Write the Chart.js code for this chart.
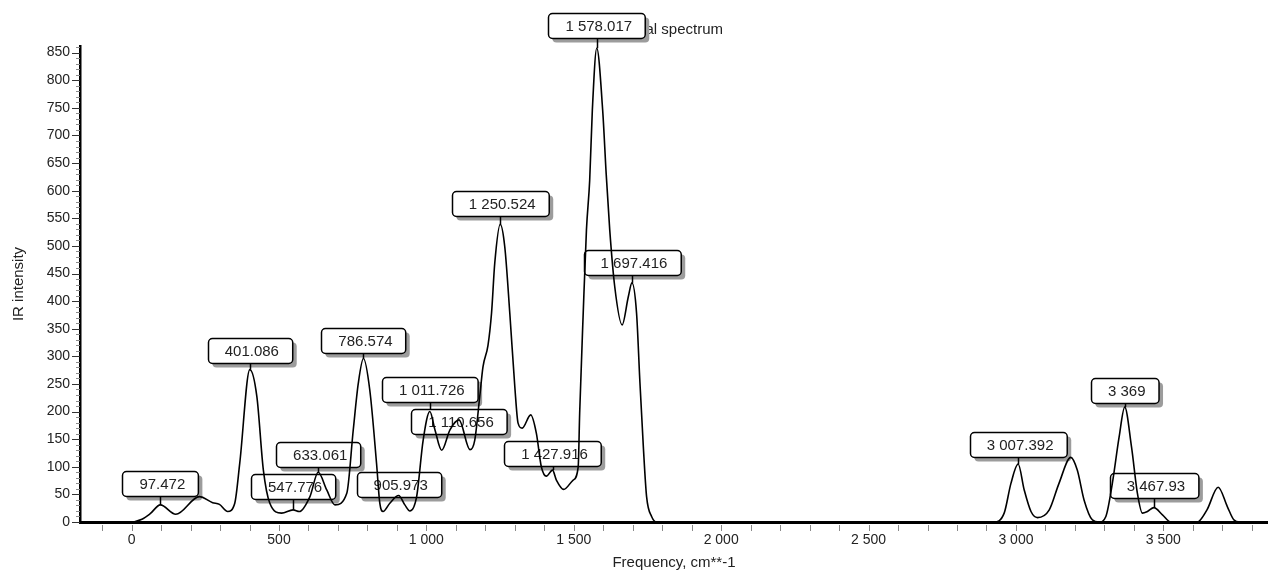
<!DOCTYPE html>
<html lang="en">
<head>
<meta charset="UTF-8">
<title>IR spectrum</title>
<style>
  html, body { margin: 0; padding: 0; background: #fff; }
  #wrap { width: 1268px; height: 572px; }
</style>
<script src="https://cdn.jsdelivr.net/npm/chart.js"></script>
</head>
<body>
<div id="wrap"><canvas id="spec"></canvas></div>
<script>
// spectrum (frequency cm-1 / IR intensity)
const freq = [-175, -5, 35, 63, 97.472, 150, 230, 275, 298, 326, 350, 367, 401.086, 425, 447, 469, 509,
  547.776, 569, 605, 633.061, 662, 690, 730, 752, 769, 786.574, 808, 831, 842, 853, 876, 905.973, 927,
  944, 967, 989, 1011.726, 1029, 1052, 1080, 1110.656, 1148, 1164, 1181, 1192, 1209, 1221, 1232,
  1250.524, 1266, 1283, 1300, 1311, 1325, 1354, 1373, 1390, 1407, 1427.916, 1441, 1466, 1498, 1515,
  1520, 1532, 1543, 1554, 1563, 1578.017, 1598, 1610, 1622, 1639, 1664, 1685, 1697.416, 1713, 1724,
  1736, 1747, 1764, 1781, 2925, 2960, 2983, 3007.392, 3028, 3051, 3073, 3113, 3146, 3186, 3208, 3231,
  3259, 3282, 3305, 3327, 3350, 3369, 3392, 3412, 3429, 3446, 3467.93, 3497, 3525, 3615, 3648, 3686,
  3717, 3739, 3759, 3855];
const intensity = [0, 0, 5, 15, 31, 14, 46, 35, 32, 19, 34, 107, 276, 227, 94, 34, 16,
  22, 19, 46, 90, 58, 31, 52, 167, 251, 296, 239, 106, 34, 19, 34, 48, 31,
  20, 46, 148, 200, 167, 130, 167, 185, 131, 148, 227, 281, 320, 378, 469,
  539, 498, 378, 245, 179, 170, 194, 161, 100, 83, 94, 76, 59, 76, 100,
  197, 378, 529, 619, 746, 858, 746, 630, 529, 426, 357, 408, 433, 378, 257,
  136, 46, 10, 0, 0, 16, 70, 105, 58, 19, 8, 22, 70, 117, 94, 40,
  4, 0, 10, 70, 154, 208, 136, 52, 16, 19, 26, 13, 0, 0, 22, 63,
  28, 4, 0, 0];

// labelled peaks
const peakFreq = [97.472, 401.086, 547.776, 633.061, 786.574, 905.973, 1011.726, 1110.656,
  1250.524, 1427.916, 1578.017, 1697.416, 3007.392, 3369, 3467.93];
const peakText = ['97.472', '401.086', '547.776', '633.061', '786.574', '905.973', '1 011.726', '1 110.656',
  '1 250.524', '1 427.916', '1 578.017', '1 697.416', '3 007.392', '3 369', '3 467.93'];
// gap in px between a label box and its peak
const peakLift = [9, 7, 11, 5, 6, -2, 10, -14, 8, 4, 10, 8, 7, 4, 10];

const xTickValues = [0, 500, 1000, 1500, 2000, 2500, 3000, 3500];
const yTickValues = [0, 50, 100, 150, 200, 250, 300, 350, 400, 450, 500, 550, 600, 650, 700, 750, 800, 850];

const FONT = '"Liberation Sans", Arial, sans-serif';
const fmt = v => String(v).replace(/\B(?=(\d{3})+(?!\d))/g, ' ');

function roundRect(ctx, x, y, w, h, r) {
  ctx.beginPath();
  ctx.moveTo(x + r, y);
  ctx.arcTo(x + w, y, x + w, y + h, r);
  ctx.arcTo(x + w, y + h, x, y + h, r);
  ctx.arcTo(x, y + h, x, y, r);
  ctx.arcTo(x, y, x + w, y, r);
  ctx.closePath();
}

const spectrumDecor = {
  id: 'spectrumDecor',
  beforeDatasetsDraw(chart) {
    const { ctx, chartArea: a, scales: { x, y } } = chart;
    ctx.save();
    // small tick marks
    ctx.lineWidth = 1;
    for (let v = 0; v <= 860; v += 10) {
      const py = Math.round(y.getPixelForValue(v)) + 0.5;
      const major = v % 50 === 0;
      ctx.strokeStyle = major ? '#333' : '#8a8a8a';
      ctx.beginPath();
      ctx.moveTo(a.left - (major ? 8 : 4), py);
      ctx.lineTo(a.left, py);
      ctx.stroke();
    }
    ctx.strokeStyle = '#8a8a8a';
    for (let v = -100; v <= 3800; v += 100) {
      const px = Math.round(x.getPixelForValue(v)) + 0.5;
      ctx.beginPath();
      ctx.moveTo(px, a.bottom + 3);
      ctx.lineTo(px, a.bottom + 9);
      ctx.stroke();
    }

    // legend text (partly hidden behind the top label)
    ctx.font = '15px ' + FONT;
    ctx.fillStyle = '#222';
    ctx.textAlign = 'right';
    ctx.textBaseline = 'middle';
    ctx.fillText('Theoretical spectrum', 723, 30);

    // peak labels
    ctx.textAlign = 'center';
    peakFreq.forEach((f, i) => {
      const k = freq.indexOf(f);
      const px = x.getPixelForValue(f);
      const py = y.getPixelForValue(intensity[k]);
      const w = ctx.measureText(peakText[i]).width + 30;
      const h = 25;
      const bx = Math.round(px - w / 2) + 0.5;
      const by = Math.round(py - peakLift[i] - h) + 0.5;

      ctx.fillStyle = '#9c9c9c';
      roundRect(ctx, bx + 4, by + 4, w, h, 4);
      ctx.fill();
      ctx.fillStyle = '#fff';
      roundRect(ctx, bx, by, w, h, 4);
      ctx.fill();
      ctx.strokeStyle = '#000';
      ctx.lineWidth = 1.5;
      ctx.stroke();

      ctx.fillStyle = '#222';
      ctx.fillText(peakText[i], px + 2, by + h / 2 + 1);

      if (peakLift[i] > 0) {
        ctx.beginPath();
        ctx.moveTo(Math.round(px) + 0.5, by + h);
        ctx.lineTo(Math.round(px) + 0.5, py);
        ctx.lineWidth = 1.5;
        ctx.stroke();
      }
    });
    ctx.restore();
  }
};

new Chart(document.getElementById('spec'), {
  type: 'line',
  data: {
    datasets: [{
      label: 'Theoretical spectrum',
      data: freq.map((f, i) => ({ x: f, y: intensity[i] })),
      borderColor: '#000',
      borderWidth: 1.6,
      pointRadius: 0,
      fill: false,
      cubicInterpolationMode: 'monotone'
    }]
  },
  options: {
    responsive: true,
    maintainAspectRatio: false,
    animation: false,
    layout: { padding: { top: 46, right: 0, left: 0, bottom: 0 } },
    plugins: {
      legend: { display: false },
      title: { display: false },
      tooltip: { enabled: false }
    },
    scales: {
      x: {
        type: 'linear',
        min: -175,
        max: 3855,
        afterFit: s => { s.height = 50; },
        afterBuildTicks: s => { s.ticks = xTickValues.map(v => ({ value: v })); },
        grid: { display: false, drawTicks: false },
        border: { display: true, color: '#000', width: 3 },
        ticks: {
          autoSkip: false,
          maxRotation: 0,
          padding: 10,
          color: '#222',
          font: { family: FONT, size: 14 },
          callback: v => fmt(v)
        },
        title: {
          display: true,
          text: 'Frequency, cm**-1',
          color: '#222',
          font: { family: FONT, size: 15 },
          padding: { top: 0, bottom: 0 }
        }
      },
      y: {
        min: 0,
        max: 862,
        afterFit: s => { s.width = 80; },
        afterBuildTicks: s => { s.ticks = yTickValues.map(v => ({ value: v })); },
        grid: { display: false, drawTicks: false },
        border: { display: true, color: '#000', width: 2.5 },
        ticks: {
          autoSkip: false,
          padding: 10,
          color: '#222',
          font: { family: FONT, size: 14 }
        },
        title: {
          display: true,
          text: 'IR intensity',
          color: '#222',
          font: { family: FONT, size: 15 },
          padding: { top: 10, bottom: 0 }
        }
      }
    }
  },
  plugins: [spectrumDecor]
});
</script>
</body>
</html>
